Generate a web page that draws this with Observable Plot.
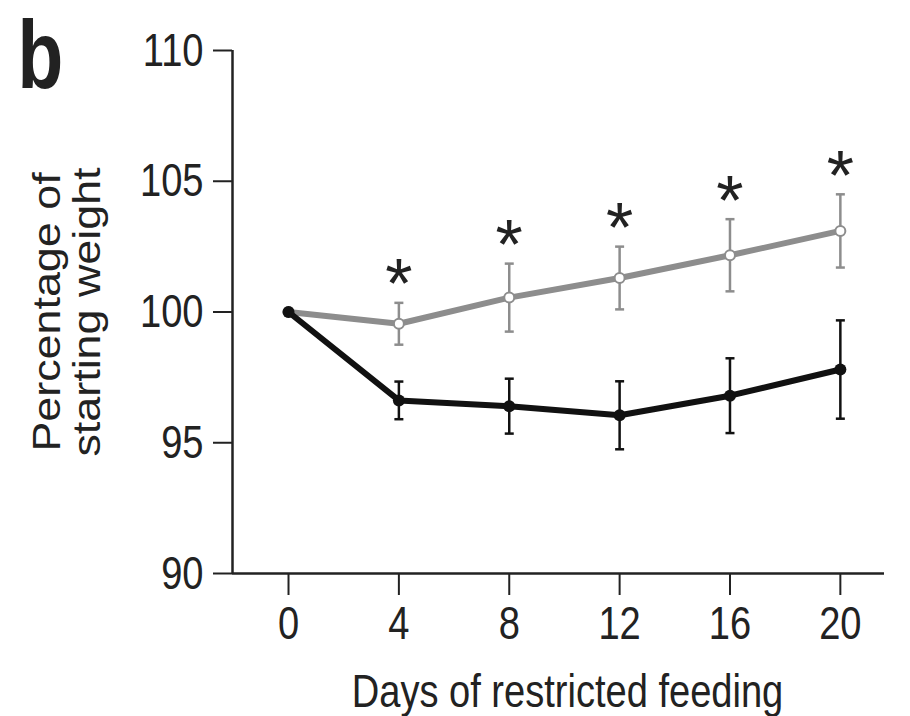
<!DOCTYPE html>
<html><head><meta charset="utf-8">
<script src="https://cdn.jsdelivr.net/npm/d3@7"></script>
<script src="https://cdn.jsdelivr.net/npm/@observablehq/plot@0.6"></script>
<style>html,body{margin:0;padding:0;background:#fff}</style>
</head><body><div id="chart"></div>
<script>
// ---- data ----
const days = [0, 4, 8, 12, 16, 20];
const controlMean = [100, 99.55, 100.55, 101.3, 102.17, 103.1];
const controlErr = [0, 0.8, 1.3, 1.2, 1.38, 1.4];
const restrictedMean = [100, 96.62, 96.4, 96.05, 96.8, 97.8];
const restrictedErr = [0, 0.72, 1.05, 1.3, 1.43, 1.88];
const significant = [false, true, true, true, true, true];
const xTicks = [0, 4, 8, 12, 16, 20];
const yTicks = [90, 95, 100, 105, 110];
const panelLabel = "b";
const xLabel = "Days of restricted feeding";
const yLabel = "Percentage of\nstarting weight";

// ---- build tables ----
const control = days.map((d, i) => ({day: d, mean: controlMean[i], err: controlErr[i], sig: significant[i]}));
const restricted = days.map((d, i) => ({day: d, mean: restrictedMean[i], err: restrictedErr[i]}));

const GRAY = "#8d8d8d";
const BLACK = "#111";
const FONT = '"Liberation Sans",Arial,Helvetica,sans-serif';
const capSymbol = {draw(ctx, size) { const r = Math.sqrt(size / Math.PI); ctx.moveTo(-r, 0); ctx.lineTo(r, 0); }};
const xDomain = [-2.03, 21.6];

const chart = Plot.plot({
  width: 910, height: 716,
  marginLeft: 232, marginRight: 26, marginTop: 50, marginBottom: 143,
  x: {domain: xDomain},
  y: {domain: [90, 110]},
  style: {fontFamily: FONT, fontSize: "47px", color: "#222", background: "#fff"},
  marks: [
    Plot.ruleX([xDomain[0]], {stroke: "#222", strokeWidth: 2.5}),
    Plot.ruleY([90], {stroke: "#222", strokeWidth: 2.5}),
    Plot.axisX({ticks: xTicks, tickSize: 22, tickPadding: 10, label: null, strokeWidth: 2, fontSize: 47}),
    Plot.axisY({ticks: yTicks, tickSize: 19, tickPadding: 10, label: null, strokeWidth: 2, fontSize: 47}),
    // control (grey) series
    Plot.ruleX(control.filter(d => d.err > 0), {x: "day", y1: d => d.mean - d.err, y2: d => d.mean + d.err, stroke: GRAY, strokeWidth: 2.5}),
    Plot.dot(control.filter(d => d.err > 0), {x: "day", y: d => d.mean - d.err, symbol: capSymbol, r: 4.5, stroke: GRAY, strokeWidth: 2.5}),
    Plot.dot(control.filter(d => d.err > 0), {x: "day", y: d => d.mean + d.err, symbol: capSymbol, r: 4.5, stroke: GRAY, strokeWidth: 2.5}),
    Plot.line(control, {x: "day", y: "mean", stroke: GRAY, strokeWidth: 6}),
    Plot.dot(control, {x: "day", y: "mean", r: 5, fill: "#fff", stroke: GRAY, strokeWidth: 2}),
    // restricted (black) series
    Plot.ruleX(restricted.filter(d => d.err > 0), {x: "day", y1: d => d.mean - d.err, y2: d => d.mean + d.err, stroke: BLACK, strokeWidth: 2.5}),
    Plot.dot(restricted.filter(d => d.err > 0), {x: "day", y: d => d.mean - d.err, symbol: capSymbol, r: 4.5, stroke: BLACK, strokeWidth: 2.5}),
    Plot.dot(restricted.filter(d => d.err > 0), {x: "day", y: d => d.mean + d.err, symbol: capSymbol, r: 4.5, stroke: BLACK, strokeWidth: 2.5}),
    Plot.line(restricted, {x: "day", y: "mean", stroke: BLACK, strokeWidth: 6}),
    Plot.dot(restricted, {x: "day", y: "mean", r: 6, fill: BLACK}),
    // significance stars
    Plot.text(control.filter(d => d.sig), {x: "day", y: d => d.mean + d.err, text: () => "*", dy: -17, fontSize: 70, fill: "#222"}),
    // labels
    Plot.text([xLabel], {frameAnchor: "bottom", dx: 9, dy: 100, textAnchor: "middle", lineAnchor: "top", fontSize: 47, fill: "#222"}),
    Plot.text([yLabel], {frameAnchor: "left", dx: -200.5, rotate: -90, textAnchor: "middle", lineAnchor: "top", lineHeight: 1.026, fontSize: 39, fill: "#222"}),
    Plot.text([panelLabel], {frameAnchor: "top-left", dx: -215, dy: -31, textAnchor: "start", lineAnchor: "top", fontSize: 96, fontWeight: "bold", fill: "#222"})
  ]
});

// the reference's lettering is condensed horizontally: squeeze glyphs about their anchors
function squeeze(el, sx, sy) {
  let tr = el.getAttribute("transform");
  if (!tr) {
    const x = +el.getAttribute("x") || 0, y = +el.getAttribute("y") || 0;
    el.removeAttribute("x"); el.removeAttribute("y");
    tr = `translate(${x},${y})`;
  }
  el.setAttribute("transform", `${tr} scale(${sx},${sy})`);
}
chart.querySelectorAll('g[aria-label="x-axis tick label"] text, g[aria-label="y-axis tick label"] text')
  .forEach(t => squeeze(t, 0.81, 1));
chart.querySelectorAll('g[aria-label="text"] text').forEach(t => {
  const s = t.textContent;
  if (s === xLabel) squeeze(t, 0.81, 1);
  else if (s === yLabel.replace("\n", "")) squeeze(t, 1.15, 1);
  else if (s === panelLabel) squeeze(t, 0.78, 1);
});
document.getElementById("chart").appendChild(chart);
</script>
</body></html>
